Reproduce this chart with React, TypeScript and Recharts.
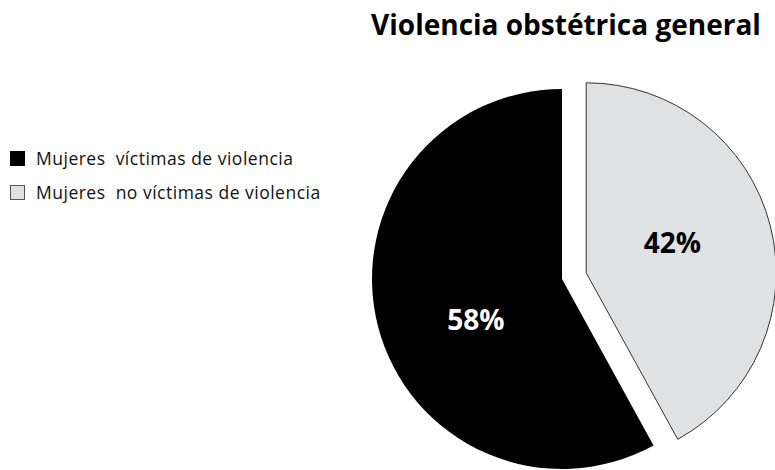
import { PieChart, Pie, Cell } from 'recharts';

const categories = ['Mujeres  no víctimas de violencia', 'Mujeres  víctimas de violencia'];
const values = [42, 58];
const colors = ['#e0e1e3', '#000000'];
const labelColors = ['#000000', '#ffffff'];
const legendOrder = [1, 0];

const data = categories.map((name, i) => ({ name, value: values[i] }));

const RAD = Math.PI / 180;
const CX = 562;
const CY = 279;
const R = 190;
const EXPLODE = 25;

// mid angle of the exploded (first) slice, clockwise from 12 o'clock
const total = values.reduce((a, b) => a + b, 0);
const explodeMid = 90 - (values[0] / total) * 180;
const dx = EXPLODE * Math.cos(explodeMid * RAD);
const dy = -EXPLODE * Math.sin(explodeMid * RAD);

const makeLabel = (visible: number) => (props: any) => {
  const { cx, cy, midAngle, outerRadius, index, value } = props;
  if (index !== visible) return null;
  const r = outerRadius * 0.49;
  const a = midAngle + 8;
  const x = cx + r * Math.cos(-a * RAD);
  const y = cy + r * Math.sin(-a * RAD);
  return (
    <text
      x={x}
      y={y}
      dy={5}
      fill={labelColors[index]}
      textAnchor="middle"
      dominantBaseline="central"
      style={{ fontFamily: '"Open Sans", sans-serif', fontWeight: 700, fontSize: 28 }}
    >
      {`${value}%`}
    </text>
  );
};

export default function App() {
  return (
    <div style={{ position: 'relative', width: 775, height: 470, background: '#fff', overflow: 'hidden' }}>
      <style>{`body { margin: 0; }`}</style>
      <div
        style={{
          position: 'absolute',
          left: 366,
          top: 5,
          width: 400,
          textAlign: 'center',
          fontFamily: '"Open Sans", sans-serif',
          fontWeight: 700,
          fontSize: 28,
          color: '#000',
          zIndex: 2,
        }}
      >
        Violencia obstétrica general
      </div>
      <div
        style={{
          position: 'absolute',
          left: 10,
          top: 141,
          fontFamily: '"Open Sans", sans-serif',
          fontSize: 17.5,
          letterSpacing: 0.5,
          color: '#111',
          zIndex: 2,
        }}
      >
        {legendOrder.map((i) => (
          <div key={i} style={{ display: 'flex', alignItems: 'center', height: 34 }}>
            <span
              style={{
                width: 13,
                height: 13,
                background: colors[i],
                border: i === 0 ? '1px solid #555' : '1px solid #000',
                marginRight: 11,
                display: 'inline-block',
              }}
            />
            <span style={{ whiteSpace: 'pre' }}>{categories[i]}</span>
          </div>
        ))}
      </div>
      <PieChart width={775} height={470} margin={{ top: 0, right: 0, bottom: 0, left: 0 }}>
        <Pie
          data={data}
          dataKey="value"
          nameKey="name"
          cx={CX}
          cy={CY}
          outerRadius={R}
          startAngle={90}
          endAngle={-270}
          labelLine={false}
          label={makeLabel(1)}
          isAnimationActive={false}
        >
          {data.map((d, i) => (
            <Cell key={d.name} fill={i === 1 ? colors[i] : 'none'} stroke="none" />
          ))}
        </Pie>
        <Pie
          data={data}
          dataKey="value"
          nameKey="name"
          cx={CX + dx}
          cy={CY + dy}
          outerRadius={R}
          startAngle={90}
          endAngle={-270}
          labelLine={false}
          label={makeLabel(0)}
          isAnimationActive={false}
        >
          {data.map((d, i) => (
            <Cell
              key={d.name}
              fill={i === 0 ? colors[i] : 'none'}
              stroke={i === 0 ? '#333' : 'none'}
              strokeWidth={1}
            />
          ))}
        </Pie>
      </PieChart>
    </div>
  );
}
